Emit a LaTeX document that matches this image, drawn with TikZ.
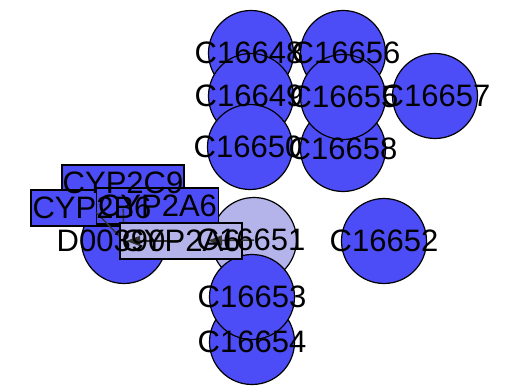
\documentclass[tikz,border=0pt]{standalone}
\usepackage{fontspec}
\setmainfont{Liberation Sans}
\usetikzlibrary{arrows.meta}
\definecolor{nodeblue}{RGB}{77,77,247}
\definecolor{nodelight}{RGB}{180,180,235}
\definecolor{edgegray}{RGB}{50,50,50}
\begin{document}
\begin{tikzpicture}[x=1pt,y=-1pt,
  cpd/.style={circle, draw=black, line width=1.2pt, minimum size=85pt, inner sep=0pt, fill=nodeblue},
  cpdlight/.style={cpd, fill=nodelight},
  enz/.style={rectangle, draw=black, line width=1.2pt, minimum width=122pt, minimum height=36pt, inner sep=0pt, fill=nodeblue},
  enzlight/.style={enz, fill=nodelight},
  lbl/.style={font=\fontsize{31}{31}\selectfont, inner sep=0pt, text=black},
  edge/.style={draw=edgegray, line width=1.5pt},
  arr/.style={edge, -{Triangle[length=14pt,width=10pt]}}]
\useasboundingbox (0,0) rectangle (505,390);
% compound circles
\node[cpd] (c16648) at (251,53) {};
\node[cpd] (c16649) at (251,96) {};
\node[cpd] (c16650) at (250,147) {};
\node[cpd] (c16656) at (343,53) {};
\node[cpd] (c16658) at (343,149) {};
\node[cpd] (c16655) at (343,97) {};
\node[cpd] (c16657) at (435,96) {};
\node[cpdlight] (c16651) at (254,240) {};
\node[cpd] (c16654) at (252,342) {};
\node[cpd] (c16653) at (252,297) {};
\node[cpd] (c16652) at (384,241) {};
\node[cpd] (d00390) at (124,241) {};
% enzyme boxes
\node[enz] (cyp2c9) at (123,183) {};
\node[enz] (cyp2b6) at (92,208) {};
\node[enz] (cyp2a6) at (157.5,206) {};
% edges to D00390
\draw[edge, shorten <=7pt] (cyp2c9.south) -- (d00390.center);
\draw[edge, shorten <=6pt] (cyp2b6.center) -- (d00390.center);
% light enzyme box
\node[enzlight] (lbox) at (181,241) {};
% arrows
\draw[arr, shorten >=27pt] (c16651.center) -- (lbox.center);
\draw[arr, shorten >=2pt] (lbox.center) -- (d00390.center);
% labels
\node[lbl] (t16648) at ([xshift=-2pt]c16648) {C16648};
\node[lbl] (t16649) at ([xshift=-2pt]c16649) {C16649};
\node[lbl] (t16650) at ([xshift=-2pt]c16650) {C16650};
\node[lbl] (t16656) at ([xshift=3pt]c16656) {C16656};
\node[lbl] (t16655) at ([xshift=1pt]c16655) {C16655};
\node[lbl] (t16658) at (c16658) {C16658};
\node[lbl] (t16657) at ([xshift=1pt]c16657) {C16657};
\node[lbl] (t16651) at ([xshift=-3pt]c16651) {C16651};
\node[lbl] (t16652) at (c16652) {C16652};
\node[lbl] (t16653) at (c16653) {C16653};
\node[lbl] (t16654) at (c16654) {C16654};
\node[lbl] (td00390) at ([xshift=-13pt]d00390) {D00390};
\node[lbl] (tcyp2c9) at (cyp2c9) {CYP2C9};
\node[lbl] (tcyp2b6) at (cyp2b6) {CYP2B6};
\node[lbl] (tcyp2a6) at (cyp2a6) {CYP2A6};
\node[lbl] (tlbox) at (lbox) {CYP2A6};
\end{tikzpicture}
\end{document}
